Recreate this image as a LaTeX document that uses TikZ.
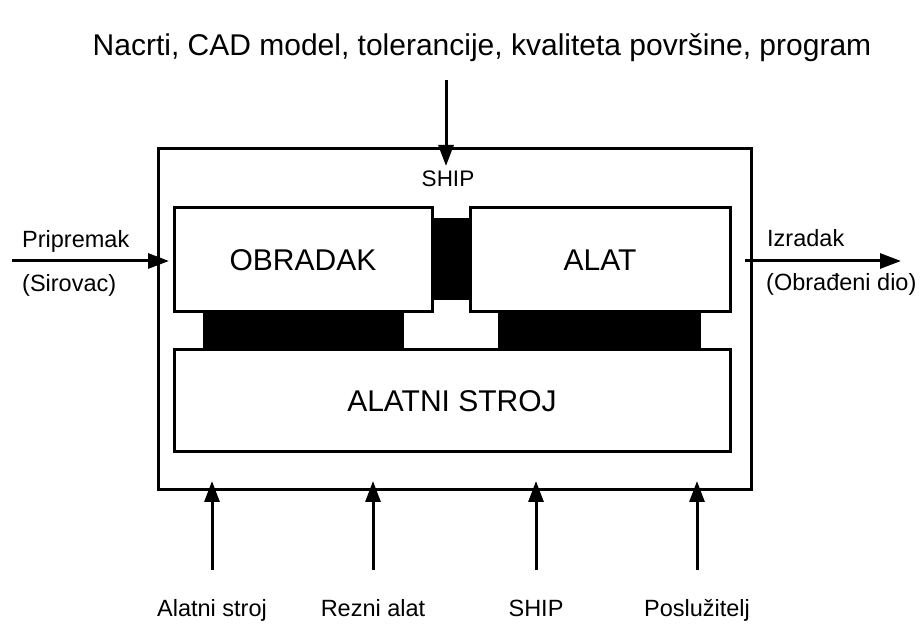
\documentclass[tikz,border=0pt]{standalone}
\usepackage{fontspec}
\setmainfont{Liberation Sans}
\usetikzlibrary{arrows.meta}
\begin{document}
\begin{tikzpicture}[x=1pt,y=-1pt,
  box/.style={draw,line width=3pt,fill=white,inner sep=0pt,font=\fontsize{30}{31}\selectfont},
  blk/.style={fill=black},
  flow/.style={line width=3pt,-{Triangle[length=21pt,width=15pt]}},
  lbl/.style={inner sep=0pt,font=\fontsize{23.5}{25}\selectfont},
  ttl/.style={inner sep=0pt,font=\fontsize{30}{32}\selectfont}]
\useasboundingbox[fill=white] (0,0) rectangle (922,628);
% outer frame
\node[draw,line width=3pt,minimum width=593pt,minimum height=341pt,inner sep=0pt] (outer) at (454.5,319.5) {};
% black spacers
\fill[blk] (432,218) rectangle (470,300);
\fill[blk] (203,310) rectangle (404,350);
\fill[blk] (498,310) rectangle (701,350);
% boxes
\node[box,minimum width=258pt,minimum height=104pt] (obradak) at (303,260) {OBRADAK};
\node[box,minimum width=260pt,minimum height=104pt] (alat) at (600,260) {ALAT};
\node[box,minimum width=556pt,minimum height=102pt] (stroj) at (452,401) {ALATNI STROJ};
% top input
\node[ttl,anchor=base] (title) at (482,56) {Nacrti, CAD model, tolerancije, kvaliteta površine, program};
\coordinate (topS) at (446,80);
\coordinate (topE) at (446,166);
\draw[flow] (topS) -- (topE);
\node[lbl,anchor=base,font=\fontsize{22.5}{24}\selectfont] (ship) at (448,187) {SHIP};
% left input
\coordinate (inS) at (12,261);
\coordinate (inE) at (169,261);
\draw[flow] (inS) -- (inE);
\node[lbl,anchor=base west] (prip) at (22,248) {Pripremak};
\node[lbl,anchor=base west] (sir) at (22,292) {(Sirovac)};
% right output
\coordinate (outS) at (745,261);
\coordinate (outE) at (901,261);
\draw[flow] (outS) -- (outE);
\node[lbl,anchor=base west] (izr) at (767,247) {Izradak};
\node[lbl,anchor=base west] (obr) at (766,291) {(Obrađeni dio)};
% bottom inputs
\foreach \x/\t/\n in {212/Alatni stroj/a, 373/Rezni alat/b, 536/SHIP/c, 697/Poslužitelj/d}{
  \coordinate (b\n S) at (\x,570);
  \coordinate (b\n E) at (\x,481);
  \draw[flow] (b\n S) -- (b\n E);
  \node[lbl,anchor=base] (l\n) at (\x,616) {\t};
}
\end{tikzpicture}
\end{document}
